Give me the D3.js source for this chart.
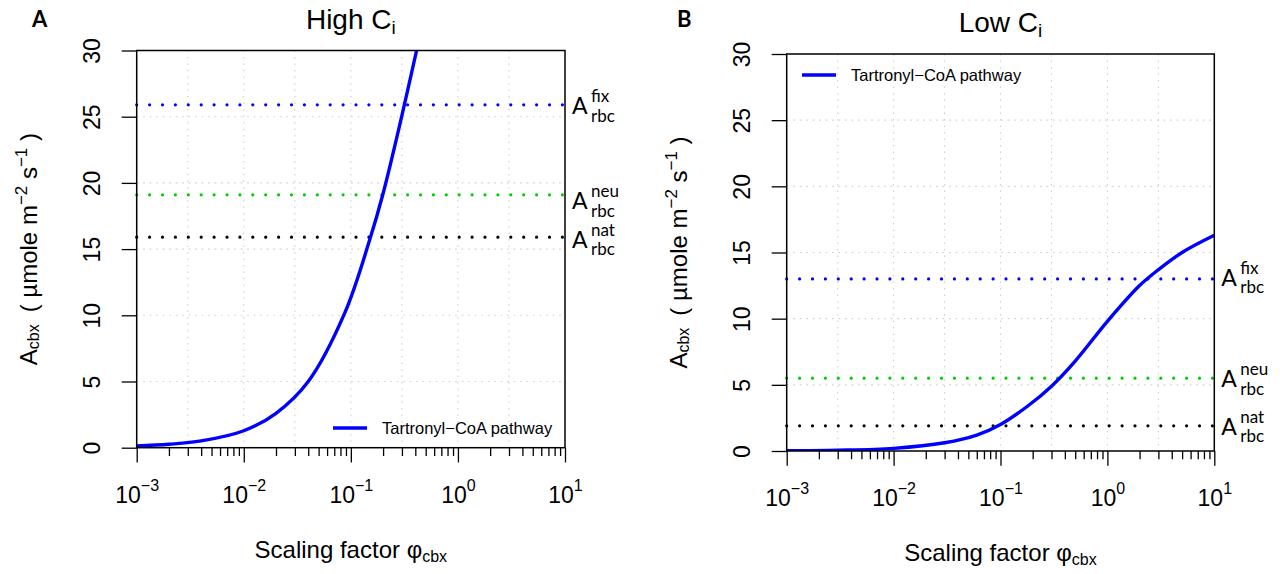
<!DOCTYPE html>
<html>
<head>
<meta charset="utf-8">
<script src="https://cdn.jsdelivr.net/npm/d3@7"></script>
<style>
  body { margin: 0; background: #fff; }
  svg { display: block; font-family: "Liberation Sans", Arial, Helvetica, sans-serif; }
</style>
</head>
<body>
<svg id="chart" width="1282" height="574"></svg>
<script>
// Carboxylation rate of the tartronyl-CoA pathway vs. scaling factor, high Ci
const phiHigh  = [0.001, 0.002, 0.004, 0.01, 0.02, 0.04, 0.088, 0.15, 0.2, 0.3, 0.411];
const acbxHigh = [0.13, 0.26, 0.51, 1.28, 2.6, 5.0, 10.2, 15.7, 19.2, 25.1, 30.0];

// Same pathway at low Ci
const phiLow  = [0.001, 0.003, 0.01, 0.03, 0.06, 0.1, 0.18, 0.3, 0.5, 1, 2, 3, 5, 10];
const acbxLow = [0.02, 0.06, 0.2, 0.62, 1.2, 2.0, 3.4, 4.9, 6.8, 9.8, 12.5, 13.7, 15.0, 16.3];

// Rubisco reference rates (fix, neu, nat)
const refNames = ["fix", "neu", "nat"];
const refHigh = [25.9, 19.1, 15.9];
const refLow  = [13.0, 5.5, 1.9];

// Axis ticks
const xMajorTicks = [1e-3, 1e-2, 1e-1, 1, 10];
const xMajorExp   = ["\u22123", "\u22122", "\u22121", "0", "1"];
const xMinorTicks = [2,3,4,5,6,7,8,9].flatMap(m => [1e-3, 1e-2, 1e-1, 1].map(p => m * p));
const xGridTicks  = [0.003, 0.01, 0.03, 0.1, 0.3, 1, 3];
const yTicks      = [0, 5, 10, 15, 20, 25, 30];

const legendLabel = "Tartronyl\u2212CoA pathway";
const refColors = ["#0000ff", "#00cd00", "#000000"];
const curveColor = "#0000ff";

const svg = d3.select("#chart");

function drawPanel(p) {
  const x = d3.scaleLog().domain([1e-3, 10]).range([p.left, p.right]);
  const y = d3.scaleLinear().domain([0, 30]).range([p.bottom, p.top]);
  const g = svg.append("g");

  const clipId = "clip-" + p.id;
  svg.append("clipPath").attr("id", clipId)
    .append("rect")
    .attr("x", p.left).attr("y", p.top)
    .attr("width", p.right - p.left).attr("height", p.bottom - p.top);

  // dotted grid
  g.append("g").selectAll("line").data(xGridTicks).join("line")
    .attr("x1", d => x(d)).attr("x2", d => x(d))
    .attr("y1", p.top).attr("y2", p.bottom)
    .attr("stroke", "#cfcfcf").attr("stroke-width", 1.1)
    .attr("stroke-dasharray", "1.6,4.9");
  g.append("g").selectAll("line").data(yTicks.slice(1, -1)).join("line")
    .attr("x1", p.left).attr("x2", p.right)
    .attr("y1", d => y(d)).attr("y2", d => y(d))
    .attr("stroke", "#cfcfcf").attr("stroke-width", 1.1)
    .attr("stroke-dasharray", "1.6,4.9");

  // Rubisco reference levels
  g.append("g").selectAll("line").data(p.refs).join("line")
    .attr("x1", p.left).attr("x2", p.right)
    .attr("y1", d => y(d)).attr("y2", d => y(d))
    .attr("stroke", (d, i) => refColors[i])
    .attr("stroke-width", 3.2)
    .attr("stroke-linecap", "round")
    .attr("stroke-dasharray", "0,12.9");

  // pathway curve
  const line = d3.line()
    .x(d => x(d[0])).y(d => y(d[1]))
    .curve(d3.curveCatmullRom.alpha(0.5));
  g.append("path")
    .datum(d3.zip(p.phi, p.acbx))
    .attr("d", line)
    .attr("fill", "none")
    .attr("stroke", curveColor)
    .attr("stroke-width", 3.4)
    .attr("stroke-linejoin", "round")
    .attr("clip-path", `url(#${clipId})`);

  // x axis: minor + major ticks
  const minorAxis = d3.axisBottom(x).tickValues(xMinorTicks).tickSize(8.3).tickFormat("");
  const majorAxis = d3.axisBottom(x).tickValues(xMajorTicks).tickSize(14.7).tickFormat("");
  const gMinor = g.append("g").attr("transform", `translate(0,${p.bottom})`).call(minorAxis);
  gMinor.select(".domain").remove();
  gMinor.selectAll("line").attr("stroke-width", 1.3);
  const gMajor = g.append("g").attr("transform", `translate(0,${p.bottom})`).call(majorAxis);
  gMajor.select(".domain").remove();
  gMajor.selectAll("line").attr("stroke-width", 1.3);
  gMajor.selectAll(".tick text").each(function(d) {
    const t = d3.select(this)
      .text(null)
      .attr("y", 55).attr("dy", 0)
      .attr("text-anchor", "middle")
      .attr("font-family", "'Liberation Sans', Arial, sans-serif")
      .attr("fill", "#000");
    t.append("tspan").attr("font-size", 23).text("10");
    t.append("tspan").attr("font-size", 16).attr("dy", -12)
      .text(xMajorExp[xMajorTicks.indexOf(d)]);
  });

  // y axis
  const yAxis = d3.axisLeft(y).tickValues(yTicks).tickSize(15).tickFormat(d3.format("d"));
  const gy = g.append("g").attr("transform", `translate(${p.left},0)`).call(yAxis);
  gy.select(".domain").remove();
  gy.selectAll("line").attr("stroke-width", 1.3);
  gy.selectAll(".tick text")
    .attr("x", 0).attr("y", -p.yLabelGap).attr("dy", 0)
    .attr("transform", "rotate(-90)")
    .attr("text-anchor", "middle")
    .attr("font-size", 23)
    .attr("font-family", "'Liberation Sans', Arial, sans-serif")
    .attr("fill", "#000");

  // plot frame
  g.append("rect")
    .attr("x", p.left).attr("y", p.top)
    .attr("width", p.right - p.left).attr("height", p.bottom - p.top)
    .attr("fill", "none").attr("stroke", "#000").attr("stroke-width", 1.5);

  // title
  const title = g.append("text")
    .attr("x", (p.left + p.right) / 2).attr("y", p.top - 22)
    .attr("text-anchor", "middle").attr("font-size", 28);
  title.append("tspan").text(p.title);
  title.append("tspan").attr("font-size", 19).attr("dy", 5).text("i");

  // panel letter
  g.append("text")
    .attr("x", p.letterX).attr("y", 27)
    .attr("font-family", "Lato, 'Open Sans', sans-serif")
    .attr("font-weight", "bold").attr("font-size", 22)
    .text(p.letter);

  // x axis title
  const xt = g.append("text")
    .attr("x", (p.left + p.right) / 2).attr("y", p.bottom + 110)
    .attr("text-anchor", "middle").attr("font-size", 24);
  xt.append("tspan").text("Scaling factor \u03c6");
  xt.append("tspan").attr("font-size", 16).attr("dy", 4).text("cbx");

  // y axis title
  const yt = g.append("text")
    .attr("transform", `translate(${p.left - 100},${(p.top + p.bottom) / 2}) rotate(-90)`)
    .attr("text-anchor", "middle").attr("font-size", 24);
  yt.append("tspan").text("A");
  yt.append("tspan").attr("font-size", 16).attr("dy", 2).text("cbx");
  yt.append("tspan").attr("dy", -2).text("\u2002( \u00b5mole m");
  yt.append("tspan").attr("font-size", 17).attr("dy", -10).text("\u22122");
  yt.append("tspan").attr("dy", 10).text(" s");
  yt.append("tspan").attr("font-size", 17).attr("dy", -10).text("\u22121");
  yt.append("tspan").attr("dy", 10).text(" )");

  // legend
  g.append("line")
    .attr("x1", p.legendX).attr("x2", p.legendX + 34)
    .attr("y1", p.legendY).attr("y2", p.legendY)
    .attr("stroke", curveColor).attr("stroke-width", 3.4);
  g.append("text")
    .attr("x", p.legendX + 49).attr("y", p.legendY + 6)
    .attr("font-size", 16.5)
    .text(legendLabel);

  // reference labels on the right
  const lab = g.append("g").attr("font-family", "Lato, 'Open Sans', sans-serif");
  p.refs.forEach((v, i) => {
    const base = y(v) + p.labelDrop[i];
    lab.append("text")
      .attr("x", p.right + 7).attr("y", base)
      .attr("font-size", 23).text("A");
    lab.append("text")
      .attr("x", p.right + 26).attr("y", base - 12)
      .attr("font-size", 17).text(refNames[i]);
    lab.append("text")
      .attr("x", p.right + 26).attr("y", base + 7.5)
      .attr("font-size", 17).text("rbc");
  });
}

drawPanel({
  id: "a", letter: "A", letterX: 32, title: "High C",
  left: 136.7, right: 565, top: 50.5, bottom: 447.7,
  phi: phiHigh, acbx: acbxHigh, refs: refHigh,
  yLabelGap: 36.7, labelDrop: [9.7, 14.5, 10.5],
  legendX: 333, legendY: 428
});

drawPanel({
  id: "b", letter: "B", letterX: 677, title: "Low C",
  left: 786.7, right: 1214.3, top: 54, bottom: 451,
  phi: phiLow, acbx: acbxLow, refs: refLow,
  yLabelGap: 36.7, labelDrop: [7, 9, 9],
  legendX: 802, legendY: 75
});
</script>
</body>
</html>
